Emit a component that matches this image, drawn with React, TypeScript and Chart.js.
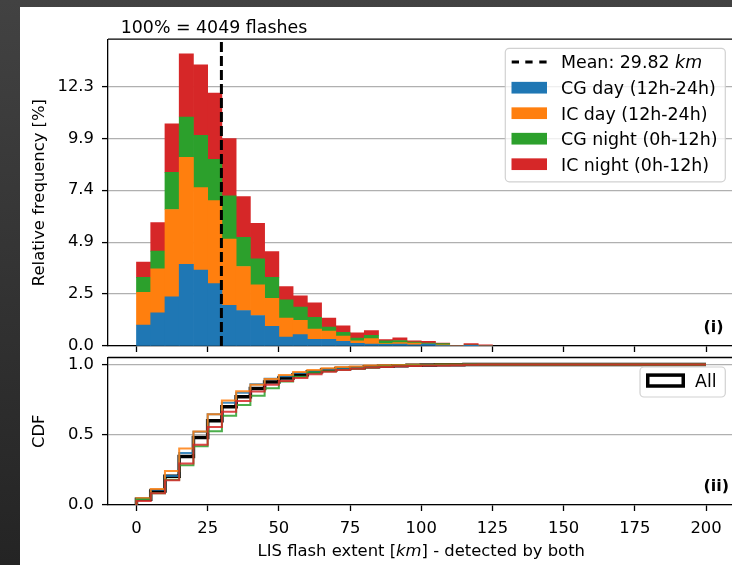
import React, { useEffect, useRef } from "react";
import { Chart, registerables } from "chart.js";

Chart.register(...registerables);

// ---------- data ----------
const BIN_EDGES_KM = [0, 5, 10, 15, 20, 25, 30, 35, 40, 45, 50, 55, 60, 65, 70, 75, 80, 85, 90, 95, 100, 105, 110, 115, 120, 125];
const CG_DAY = [1.0, 1.58, 2.34, 3.88, 3.61, 2.97, 1.93, 1.69, 1.45, 0.93, 0.43, 0.54, 0.32, 0.32, 0.22, 0.13, 0.09, 0.08, 0.09, 0.06, 0.09, 0.03, 0.0, 0.02, 0.0];
const IC_DAY = [1.55, 2.09, 4.15, 5.09, 3.92, 3.94, 3.16, 2.09, 1.46, 1.34, 0.9, 0.68, 0.49, 0.39, 0.25, 0.12, 0.26, 0.03, 0.07, 0.08, 0.0, 0.03, 0.0, 0.0, 0.0];
const CG_NIGHT = [0.71, 0.84, 1.77, 1.92, 2.49, 1.97, 2.05, 1.39, 1.23, 1.0, 0.87, 0.63, 0.55, 0.19, 0.18, 0.13, 0.16, 0.13, 0.1, 0.05, 0.05, 0.05, 0.0, 0.02, 0.0];
const IC_NIGHT = [0.73, 1.36, 2.31, 3.0, 3.35, 3.15, 2.72, 1.94, 1.69, 1.22, 0.63, 0.54, 0.69, 0.43, 0.31, 0.25, 0.22, 0.06, 0.13, 0.06, 0.08, 0.03, 0.03, 0.07, 0.06];
const SERIES_NAMES = ["CG day (12h-24h)", "IC day (12h-24h)", "CG night (0h-12h)", "IC night (0h-12h)"];
const SERIES_COLORS = ["#1f77b4", "#ff7f0e", "#2ca02c", "#d62728"];
const SERIES_LINE_COLORS = ["rgba(31,119,180,0.85)", "rgba(255,127,14,0.85)", "rgba(44,160,44,0.85)", "rgba(214,39,40,0.85)"];
const ALL_NAME = "All";
const MEAN_KM = 29.82;
const CDF_END_KM = 200;

const TITLE_TEXT = "100% = 4049 flashes";
const MEAN_LABEL: [string, boolean][] = [["Mean: 29.82 ", false], ["km", true]];
const Y_LABEL_TOP = "Relative frequency [%]";
const Y_LABEL_BOTTOM = "CDF";
const X_LABEL: [string, boolean][] = [["LIS flash extent [", false], ["km", true], ["] - detected by both", false]];
const PANEL_TAGS = ["(i)", "(ii)"];

const X_MIN = -10;
const X_MAX = 210;
const X_TICKS = [0, 25, 50, 75, 100, 125, 150, 175, 200];
const X_TICK_LABELS = ["0", "25", "50", "75", "100", "125", "150", "175", "200"];
const TOP_Y_MAX = 14.59;
const TOP_Y_TICKS = [0, 2.47, 4.939, 7.409, 9.879, 12.349];
const TOP_Y_TICK_LABELS = ["0.0", "2.5", "4.9", "7.4", "9.9", "12.3"];
const CDF_Y_MAX = 1.05;
const CDF_Y_TICKS = [0, 0.5, 1.0];
const CDF_Y_TICK_LABELS = ["0.0", "0.5", "1.0"];

// ---------- style ----------
const FONT = '"DejaVu Sans", "Liberation Sans", sans-serif';
const TICK_SIZE = 16.4;
const LEGEND_SIZE = 17.4;
const CANVAS_W = 740;
const CANVAS_H = 565;

const binCenters = BIN_EDGES_KM.slice(0, -1).map((e, i) => (e + BIN_EDGES_KM[i + 1]) / 2);

function cdfPoints(values: number[]) {
  const total = values.reduce((a, b) => a + b, 0);
  let run = 0;
  const pts = [{ x: BIN_EDGES_KM[0], y: 0 }];
  values.forEach((v, i) => {
    run += v;
    pts.push({ x: BIN_EDGES_KM[i + 1], y: run / total });
  });
  pts.push({ x: CDF_END_KM, y: run / total });
  return pts;
}

function drawRuns(ctx: CanvasRenderingContext2D, runs: [string, boolean][], x: number, y: number, size: number, align: "left" | "center") {
  const widths = runs.map(([t, it]) => {
    ctx.font = `${it ? "italic " : ""}${size}px ${FONT}`;
    return ctx.measureText(t).width;
  });
  const total = widths.reduce((a, b) => a + b, 0);
  let cx = align === "center" ? x - total / 2 : x;
  ctx.textAlign = "left";
  ctx.textBaseline = "alphabetic";
  runs.forEach(([t, it], i) => {
    ctx.font = `${it ? "italic " : ""}${size}px ${FONT}`;
    ctx.fillText(t, cx, y);
    cx += widths[i];
  });
}

function roundRect(ctx: CanvasRenderingContext2D, x: number, y: number, w: number, h: number, r: number) {
  ctx.beginPath();
  ctx.moveTo(x + r, y);
  ctx.lineTo(x + w - r, y);
  ctx.arcTo(x + w, y, x + w, y + r, r);
  ctx.lineTo(x + w, y + h - r);
  ctx.arcTo(x + w, y + h, x + w - r, y + h, r);
  ctx.lineTo(x + r, y + h);
  ctx.arcTo(x, y + h, x, y + h - r, r);
  ctx.lineTo(x, y + r);
  ctx.arcTo(x, y, x + r, y, r);
  ctx.closePath();
}

function drawSpines(chart: any) {
  const { ctx, chartArea: a } = chart;
  ctx.save();
  ctx.strokeStyle = "#000";
  ctx.lineWidth = 1.3;
  ctx.beginPath();
  ctx.moveTo(a.left, a.top);
  ctx.lineTo(a.right, a.top);
  ctx.lineTo(a.right, a.bottom);
  ctx.stroke();
  ctx.restore();
}

const topDecor = {
  id: "topDecor",
  afterDraw(chart: any) {
    const ctx = chart.ctx as CanvasRenderingContext2D;
    drawSpines(chart);
    ctx.save();
    ctx.fillStyle = "#000";
    // title
    ctx.font = `${LEGEND_SIZE}px ${FONT}`;
    ctx.textAlign = "left";
    ctx.textBaseline = "alphabetic";
    ctx.fillText(TITLE_TEXT, 120.7, 33.3);
    // legend
    roundRect(ctx, 505.3, 48.3, 220, 133.5, 4);
    ctx.fillStyle = "rgba(255,255,255,0.8)";
    ctx.fill();
    ctx.strokeStyle = "rgba(204,204,204,0.9)";
    ctx.lineWidth = 1.2;
    ctx.stroke();
    const baselines = [68.3, 94, 119.5, 145, 170.5];
    // mean handle
    ctx.strokeStyle = "#000";
    ctx.lineWidth = 3;
    ctx.beginPath();
    [511.7, 525.3, 539.3].forEach((x0) => {
      ctx.moveTo(x0, baselines[0] - 6.3);
      ctx.lineTo(x0 + 7.3, baselines[0] - 6.3);
    });
    ctx.stroke();
    ctx.fillStyle = "#000";
    drawRuns(ctx, MEAN_LABEL, 561, baselines[0], LEGEND_SIZE, "left");
    SERIES_NAMES.forEach((name, i) => {
      const b = baselines[i + 1];
      ctx.fillStyle = SERIES_COLORS[i];
      ctx.fillRect(511.5, b - 6.3 - 5.85, 35.5, 11.7);
      ctx.fillStyle = "#000";
      drawRuns(ctx, [[name, false]], 561, b, LEGEND_SIZE, "left");
    });
    // panel tag
    ctx.font = `bold 16px ${FONT}`;
    ctx.textAlign = "left";
    ctx.textBaseline = "alphabetic";
    ctx.fillText(PANEL_TAGS[0], 703.5, 332);
    ctx.restore();
  },
};

const bottomDecor = {
  id: "bottomDecor",
  afterDraw(chart: any) {
    const ctx = chart.ctx as CanvasRenderingContext2D;
    const a = chart.chartArea;
    drawSpines(chart);
    ctx.save();
    // legend
    roundRect(ctx, 640, 367, 85.3, 30, 4);
    ctx.fillStyle = "rgba(255,255,255,0.8)";
    ctx.fill();
    ctx.strokeStyle = "rgba(204,204,204,0.9)";
    ctx.lineWidth = 1.2;
    ctx.stroke();
    ctx.strokeStyle = "#000";
    ctx.lineWidth = 3.5;
    ctx.strokeRect(647.75, 375.1, 35.5, 10.9);
    ctx.fillStyle = "#000";
    drawRuns(ctx, [[ALL_NAME, false]], 695, 386.7, LEGEND_SIZE, "left");
    // panel tag
    ctx.font = `bold 16px ${FONT}`;
    ctx.textAlign = "left";
    ctx.textBaseline = "alphabetic";
    ctx.fillText(PANEL_TAGS[1], 703.5, 491);
    // x label
    drawRuns(ctx, X_LABEL, (a.left + a.right) / 2, 556, TICK_SIZE, "center");
    ctx.restore();
  },
};

const tickFont = { family: FONT, size: TICK_SIZE };

function App() {
  const topRef = useRef<HTMLCanvasElement | null>(null);
  const botRef = useRef<HTMLCanvasElement | null>(null);

  useEffect(() => {
    const seriesValues = [CG_DAY, IC_DAY, CG_NIGHT, IC_NIGHT];

    const topChart = new Chart(topRef.current as HTMLCanvasElement, {
      type: "bar",
      data: {
        datasets: [
          {
            type: "line",
            label: "Mean",
            stack: "mean",
            data: [
              { x: MEAN_KM, y: 0 },
              { x: MEAN_KM, y: TOP_Y_MAX },
            ],
            borderColor: "#000",
            borderWidth: 3,
            borderDash: [10, 4],
            pointRadius: 0,
            fill: false,
          } as any,
          ...seriesValues.map((vals, si) => ({
            type: "bar",
            label: SERIES_NAMES[si],
            data: vals.map((v, i) => ({ x: binCenters[i], y: v })),
            backgroundColor: SERIES_COLORS[si],
            borderWidth: 0,
            barPercentage: 1,
            categoryPercentage: 1,
          })),
        ] as any,
      },
      options: {
        responsive: false,
        animation: false,
        devicePixelRatio: 1,
        layout: { padding: { left: 20, top: 39.2, right: CANVAS_W - 734.5, bottom: CANVAS_H - 346 - 8 } },
        plugins: { legend: { display: false }, tooltip: { enabled: false } },
        scales: {
          x: {
            type: "linear",
            min: X_MIN,
            max: X_MAX,
            stacked: true,
            offset: false,
            afterBuildTicks: (s: any) => {
              s.ticks = X_TICKS.map((v) => ({ value: v }));
            },
            afterFit: (s: any) => {
              s.height = 8;
            },
            ticks: { display: false, autoSkip: false },
            grid: { offset: false, drawOnChartArea: false, drawTicks: true, tickLength: 6, tickColor: "#000", tickWidth: 1.3 },
            border: { display: true, color: "#000", width: 1.3 },
          },
          y: {
            type: "linear",
            min: 0,
            max: TOP_Y_MAX,
            stacked: true,
            z: 1,
            afterBuildTicks: (s: any) => {
              s.ticks = TOP_Y_TICKS.map((v) => ({ value: v }));
            },
            afterFit: (s: any) => {
              s.width = 88;
            },
            ticks: {
              callback: (_v: any, i: number) => TOP_Y_TICK_LABELS[i],
              font: tickFont,
              color: "#000",
              padding: 8,
            },
            grid: { color: "#b0b0b0", lineWidth: 1.2, tickLength: 6, tickColor: "#000", tickWidth: 1.3 },
            border: { display: true, color: "#000", width: 1.3 },
            title: {
              display: true,
              text: Y_LABEL_TOP,
              font: tickFont,
              color: "#000",
              padding: { top: 10.2, bottom: 0 },
            },
          },
        },
      } as any,
      plugins: [topDecor],
    });

    const allValues = seriesValues[0].map((_, i) => seriesValues.reduce((s, arr) => s + arr[i], 0));
    const drawOrder = [3, 2, 1, 0];
    const cdfDatasets = [
      ...drawOrder.map((si) => ({
        label: SERIES_NAMES[si],
        data: cdfPoints(seriesValues[si]),
        borderColor: SERIES_LINE_COLORS[si],
        borderWidth: 2,
        stepped: "after",
        pointRadius: 0,
        fill: false,
      })),
      {
        label: ALL_NAME,
        data: cdfPoints(allValues),
        borderColor: "#000",
        borderWidth: 3.5,
        stepped: "after",
        pointRadius: 0,
        fill: false,
      },
    ];

    const botChart = new Chart(botRef.current as HTMLCanvasElement, {
      type: "line",
      data: { datasets: cdfDatasets as any },
      options: {
        responsive: false,
        animation: false,
        devicePixelRatio: 1,
        layout: { padding: { left: 20, top: 357.5, right: CANVAS_W - 734.5, bottom: 0 } },
        plugins: { legend: { display: false }, tooltip: { enabled: false } },
        scales: {
          x: {
            type: "linear",
            min: X_MIN,
            max: X_MAX,
            afterBuildTicks: (s: any) => {
              s.ticks = X_TICKS.map((v) => ({ value: v }));
            },
            afterFit: (s: any) => {
              s.height = CANVAS_H - 505;
            },
            ticks: {
              callback: (_v: any, i: number) => X_TICK_LABELS[i],
              font: tickFont,
              color: "#000",
              padding: 8,
              maxRotation: 0,
              autoSkip: false,
            },
            grid: { offset: false, drawOnChartArea: false, drawTicks: true, tickLength: 6, tickColor: "#000", tickWidth: 1.3 },
            border: { display: true, color: "#000", width: 1.3 },
          },
          y: {
            type: "linear",
            min: 0,
            max: CDF_Y_MAX,
            afterBuildTicks: (s: any) => {
              s.ticks = CDF_Y_TICKS.map((v) => ({ value: v }));
            },
            afterFit: (s: any) => {
              s.width = 88;
            },
            ticks: {
              callback: (_v: any, i: number) => CDF_Y_TICK_LABELS[i],
              font: tickFont,
              color: "#000",
              padding: 8,
            },
            grid: { color: "#b0b0b0", lineWidth: 1.2, tickLength: 6, tickColor: "#000", tickWidth: 1.3 },
            border: { display: true, color: "#000", width: 1.3 },
            title: {
              display: true,
              text: Y_LABEL_BOTTOM,
              font: tickFont,
              color: "#000",
              padding: { top: 10.2, bottom: 0 },
            },
          },
        },
      } as any,
      plugins: [bottomDecor],
    });

    return () => {
      topChart.destroy();
      botChart.destroy();
    };
  }, []);

  return (
    <div
      style={{
        position: "fixed",
        left: 0,
        top: 0,
        width: 732,
        height: 565,
        overflow: "hidden",
        background: "linear-gradient(180deg, #424242 0%, #333333 50%, #242424 100%)",
      }}
    >
      <div style={{ position: "absolute", left: 20, top: 7, right: 0, bottom: 0, background: "#fff" }} />
      <canvas ref={topRef} width={CANVAS_W} height={CANVAS_H} style={{ position: "absolute", left: 0, top: 0, display: "block" }} />
      <canvas ref={botRef} width={CANVAS_W} height={CANVAS_H} style={{ position: "absolute", left: 0, top: 0, display: "block" }} />
    </div>
  );
}

export default App;
